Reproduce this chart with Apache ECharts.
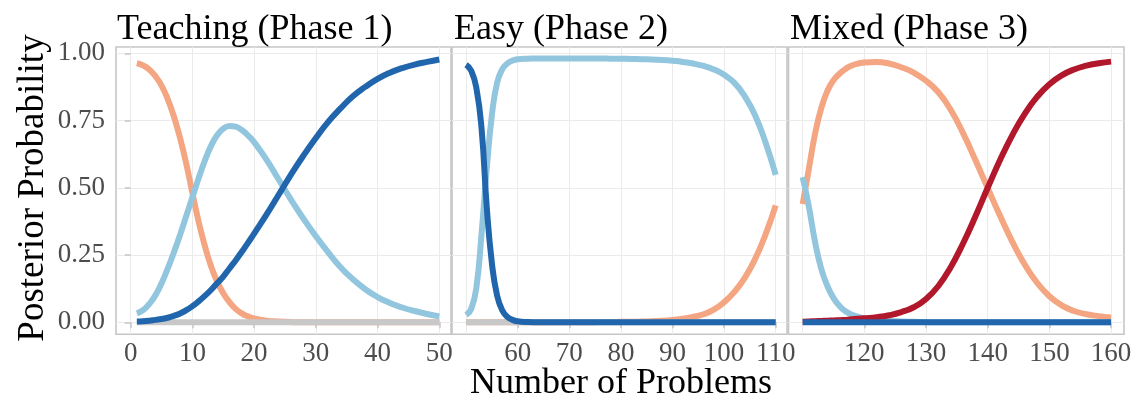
<!DOCTYPE html>
<html>
<head>
<meta charset="utf-8">
<script src="https://cdn.jsdelivr.net/npm/echarts@6/dist/echarts.min.js"></script>
<style>
  html, body { margin: 0; padding: 0; background: #fff; }
  #chart { width: 1139px; height: 401px; }
</style>
</head>
<body>
<div id="chart"></div>
<script>
// ---- data ----
// Teaching (Phase 1)
const p1X = [1,2,3,4,5,6,7,8,9,10,11,12,13,14,15,16,17,18,19,20,22,24,26,28,30,32,34,36,38,40,42,44,46,48,50];
const p1Orange = [.963,.955,.94,.915,.88,.83,.765,.685,.59,.48,.375,.285,.21,.152,.108,.075,.05,.033,.022,.014,.006,.003,.001,0,0,0,0,0,0,0,0,0,0,0,0];
const p1LightBlue = [.033,.045,.068,.10,.145,.20,.26,.325,.395,.465,.535,.60,.655,.695,.72,.73,.727,.715,.695,.67,.605,.53,.455,.385,.32,.26,.205,.16,.123,.094,.072,.055,.042,.031,.022];
const p1DarkBlue = [.003,.004,.006,.009,.012,.017,.024,.033,.045,.06,.078,.098,.12,.145,.17,.20,.23,.262,.295,.33,.40,.475,.55,.62,.685,.745,.795,.84,.875,.905,.928,.945,.958,.968,.977];
const p1GrayX = [1, 50];
const p1Gray = [0, 0];

// Easy (Phase 2)
const p2X = [50,51,52,53,54,55,56,57,58,59,60,62,64,66,68,70,72,74,76,78,80,82,84,86,88,90,92,94,96,98,100,102,104,106,108,110];
const p2Orange = [0,0,0,0,0,0,0,0,0,0,0,0,0,0,0,0,0,0,.001,.001,.002,.002,.003,.004,.006,.009,.013,.02,.03,.047,.075,.113,.165,.235,.325,.435];
const p2LightBlue = [.027,.05,.13,.33,.57,.77,.89,.94,.962,.973,.978,.98,.981,.981,.981,.981,.981,.981,.981,.98,.98,.979,.978,.977,.975,.972,.968,.962,.953,.94,.92,.89,.84,.77,.67,.548];
const p2DarkBlue = [.957,.935,.87,.72,.43,.22,.10,.045,.02,.009,.004,.001,0,0,0,0,0,0,0,0,0,0,0,0,0,0,0,0,0,0,0,0,0,0,0,0];
const p2GrayX = [50, 110];
const p2Gray = [0, 0];

// Mixed (Phase 3)
const p3X = [110,111,112,113,114,115,116,117,118,119,120,122,124,126,128,130,132,134,136,138,140,142,144,146,148,150,152,154,156,158,160];
const p3Orange = [.44,.57,.70,.795,.86,.90,.925,.943,.955,.962,.966,.968,.962,.948,.928,.898,.855,.79,.703,.603,.499,.396,.299,.215,.147,.097,.063,.042,.03,.023,.018];
const p3LightBlue = [.54,.43,.30,.20,.135,.09,.06,.04,.028,.02,.014,.008,.005,.003,.002,.001,0,0,0,0,0,0,0,0,0,0,0,0,0,0,0];
const p3Red = [.002,.003,.004,.005,.006,.007,.008,.009,.011,.013,.015,.019,.026,.038,.056,.087,.135,.205,.293,.393,.50,.603,.696,.775,.838,.885,.918,.94,.954,.963,.969];
const p3DarkBlueX = [110, 160];
const p3DarkBlue = [0, 0];

// ticks
const yTicks = [0, 0.25, 0.5, 0.75, 1];
const p1Grid = [0, 10, 20, 30, 40, 50];
const p1Labels = [0, 10, 20, 30, 40, 50];
const p2Grid = [50, 60, 70, 80, 90, 100, 110];
const p2Labels = [60, 70, 80, 90, 100, 110];
const p3Grid = [110, 120, 130, 140, 150, 160];
const p3Labels = [120, 130, 140, 150, 160];

const titles = ['Teaching (Phase 1)', 'Easy (Phase 2)', 'Mixed (Phase 3)'];

// ---- chart ----
const FONT = "'Liberation Serif', 'DejaVu Serif', serif";
const C_ORANGE = '#F4A582', C_LIGHT = '#92C5DE', C_DARK = '#2166AC', C_RED = '#B2182B', C_GRAY = '#C8C8C8';
const BORDER = '#C6C6C6';

const panels = [
  { left: 116, width: 335, min: -2.38, max: 51.9, grid: p1Grid, labels: p1Labels, titleLeft: 117 },
  { left: 452, width: 335, min: 47.27, max: 112.19, grid: p2Grid, labels: p2Labels, titleLeft: 454 },
  { left: 788.5, width: 335.5, min: 107.7, max: 162.1, grid: p3Grid, labels: p3Labels, titleLeft: 790 }
];

function zip(xs, ys) { return xs.map((x, i) => [x, ys[i]]); }

let grids = [], xAxes = [], yAxes = [], titleList = [];
panels.forEach((p, i) => {
  grids.push({ left: p.left, width: p.width, top: 47, height: 287.3, show: true,
    borderColor: BORDER, borderWidth: 1.6, backgroundColor: 'transparent' });
  // axis with labels and ticks (series go here)
  xAxes.push({
    type: 'value', gridIndex: i, min: p.min, max: p.max, position: 'bottom',
    axisLine: { show: false },
    axisTick: { show: true, length: 6, customValues: p.labels, lineStyle: { color: BORDER, width: 1.5 } },
    axisLabel: { customValues: p.labels, fontSize: 27, color: '#4D4D4D', fontFamily: FONT, margin: 6 },
    splitLine: { show: false }
  });
  // axis only for the vertical grid lines
  xAxes.push({
    type: 'value', gridIndex: i, min: p.min, max: p.max, position: 'top',
    axisLine: { show: false },
    axisTick: { show: false, customValues: p.grid },
    axisLabel: { show: false },
    splitLine: { show: true, lineStyle: { color: '#EBEBEB', width: 1 } }
  });
  yAxes.push({
    type: 'value', gridIndex: i, min: -0.0446, max: 1.0234,
    axisLine: { show: false },
    axisTick: { show: i === 0, length: 6, customValues: yTicks, lineStyle: { color: BORDER, width: 1.5 } },
    axisLabel: { show: i === 0, customValues: yTicks, fontSize: 27, color: '#4D4D4D', fontFamily: FONT, margin: 11,
      formatter: v => v.toFixed(2) },
    splitLine: { show: true, lineStyle: { color: '#EBEBEB', width: 1 } }
  });
  titleList.push({ text: titles[i], left: p.titleLeft, top: 12, padding: 0,
    textStyle: { fontSize: 36, fontWeight: 'normal', color: '#000', fontFamily: FONT } });
});

function line(panel, xs, ys, color) {
  return {
    type: 'line', xAxisIndex: panel * 2, yAxisIndex: panel,
    data: zip(xs, ys), showSymbol: false, smooth: 0.5, silent: true,
    lineStyle: { color: color, width: 6, cap: 'butt', join: 'round' }
  };
}

const series = [
  line(0, p1X, p1Orange, C_ORANGE),
  line(0, p1X, p1LightBlue, C_LIGHT),
  line(0, p1GrayX, p1Gray, C_GRAY),
  line(0, p1X, p1DarkBlue, C_DARK),
  line(1, p2X, p2Orange, C_ORANGE),
  line(1, p2X, p2LightBlue, C_LIGHT),
  line(1, p2GrayX, p2Gray, C_GRAY),
  line(1, p2X, p2DarkBlue, C_DARK),
  line(2, p3X, p3Orange, C_ORANGE),
  line(2, p3X, p3LightBlue, C_LIGHT),
  line(2, p3X, p3Red, C_RED),
  line(2, p3DarkBlueX, p3DarkBlue, C_DARK)
];

const chart = echarts.init(document.getElementById('chart'), null, { renderer: 'canvas' });
chart.setOption({
  animation: false,
  backgroundColor: '#fff',
  title: titleList,
  grid: grids,
  xAxis: xAxes,
  yAxis: yAxes,
  series: series,
  graphic: [
    { type: 'text', x: 33, y: 188, rotation: Math.PI / 2,
      style: { text: 'Posterior Probability', fontSize: 37, fontFamily: FONT, fill: '#000',
        align: 'center', verticalAlign: 'middle' } },
    { type: 'text', x: 621, y: 384,
      style: { text: 'Number of Problems', fontSize: 36, fontFamily: FONT, fill: '#000',
        align: 'center', verticalAlign: 'middle' } }
  ]
});
</script>
</body>
</html>
